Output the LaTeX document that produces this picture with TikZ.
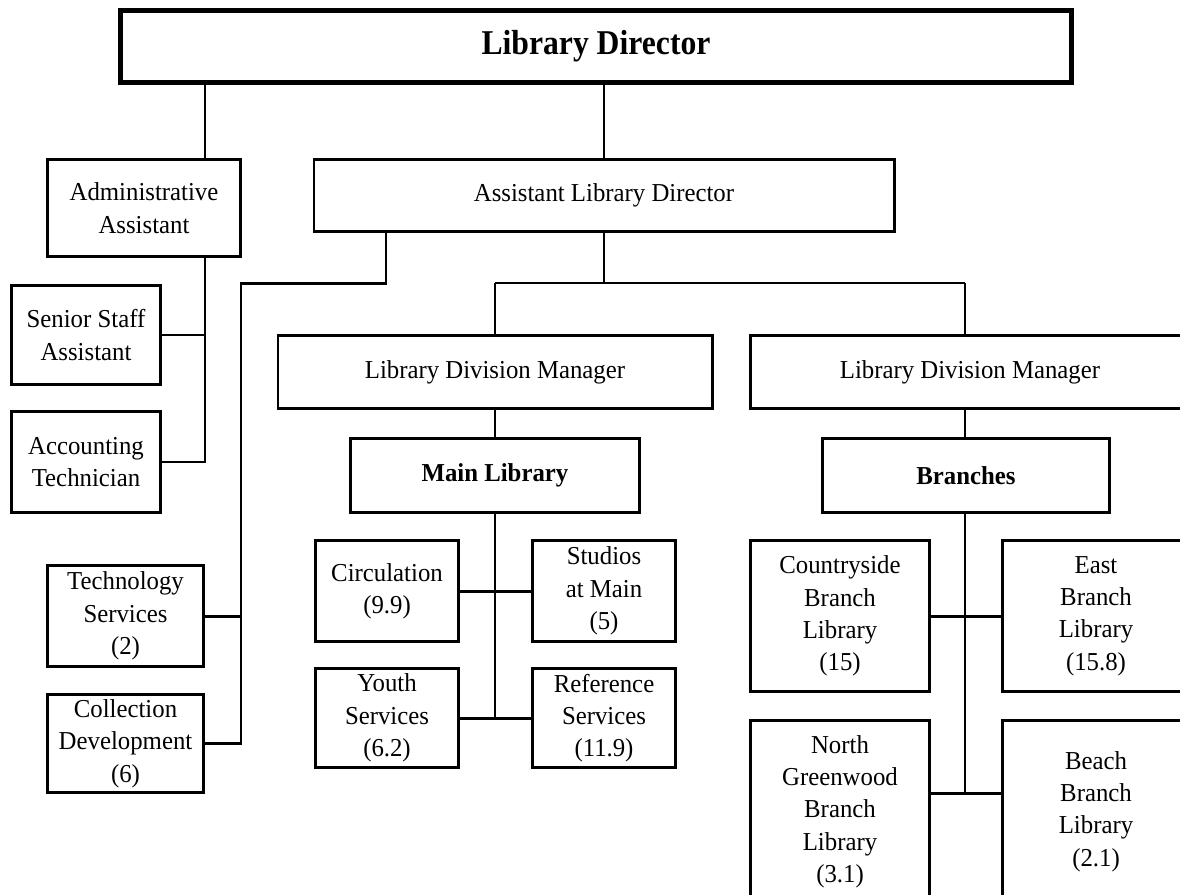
\documentclass[tikz,border=0pt]{standalone}
\usepackage{fontspec}
\setmainfont{Liberation Serif}[FakeStretch=0.96]
\newfontfamily\headfont{Liberation Serif}[FakeStretch=0.91]
\usetikzlibrary{calc}
\begin{document}
\begin{tikzpicture}[x=0.02cm,y=-0.02cm,
  box/.style={draw, line width=1.7pt, fill=white, inner sep=0pt, align=center,
    font=\fontsize{14.7}{18.4}\selectfont},
  sz/.style 2 args={minimum width=#1*0.02cm, minimum height=#2*0.02cm},
  link/.style={line width=1.2pt},
  heavy/.style={line width=1.7pt}]
\useasboundingbox (0,0) rectangle (1180,894);
\fill[white] (0,0) rectangle (1180,894);
\clip (0,0) rectangle (1180,894);

% top of the chart
\node[box, line width=2.8pt, sz={951}{72},
  font=\headfont\fontsize{19.8}{22}\selectfont\bfseries] (dir) at (596,46.5) {Library Director};
\node[box, sz={193}{97}] (admin) at (144,208) {Administrative\\Assistant};
\node[box, sz={580}{72}] (ald) at (604,195.5) {Assistant Library Director};

% administrative staff
\node[box, sz={149}{99}] (senior) at (86,335) {Senior Staff\\Assistant};
\node[box, sz={149}{101}] (acct) at (86,462) {Accounting\\Technician};
\node[box, sz={156}{101}] (tech) at (125.5,616) {Technology\\Services\\(2)};
\node[box, sz={156}{98}] (coll) at (125.5,743.5) {Collection\\Development\\(6)};

% divisions
\node[box, sz={434}{73}] (ldm1) at (495,372) {Library Division Manager};
\node[box, sz={439}{73}] (ldm2) at (970,372) {Library Division Manager};
\node[box, sz={289}{74}, font=\fontsize{14.7}{18.4}\selectfont\bfseries] (main) at (495,475.5) {Main Library};
\node[box, sz={287}{74}, font=\fontsize{14.7}{18.4}\selectfont\bfseries] (branches) at (966,475.5) {Branches};

% main library units
\node[box, sz={143}{101}] (circ) at (387,591) {Circulation\\(9.9)};
\node[box, sz={143}{101}] (studios) at (604,591) {Studios\\at Main\\(5)};
\node[box, sz={143}{99}] (youth) at (387,718) {Youth\\Services\\(6.2)};
\node[box, sz={143}{99}] (ref) at (604,718) {Reference\\Services\\(11.9)};

% branch libraries (the lower pair runs past the bottom edge)
\node[box, sz={179}{151}] (country) at (840,616) {Countryside\\Branch\\Library\\(15)};
\node[box, sz={187}{151}] (east) at (1096,616) {East\\Branch\\Library\\(15.8)};
\node[box, sz={179}{182}] (ngreen) at (840,811.5) {North\\Greenwood\\Branch\\Library\\(3.1)};
\node[box, sz={187}{182}] (beach) at (1096,811.5) {Beach\\Branch\\Library\\(2.1)};

% junction points
\coordinate (cA) at (205,0);
\coordinate (cB) at (386,283);
\coordinate (cC) at (241,283);
\coordinate (cD) at (604,283);
\coordinate (cE) at (965,283);
\coordinate (cF) at (0,793);

% director to the second level
\draw[link] (dir.south -| cA) -- (admin.north -| cA);
\draw[link] (dir.south -| ald.north) -- (ald.north);

% administrative assistant chain
\draw[link] (admin.south -| cA) -- (acct.east -| cA) -- (acct.east);
\draw[link] (senior.east) -- (senior.east -| cA);

% assistant director to technology and collections
\draw[heavy] (ald.south -| cB) -- (cB) -- (cC) |- (coll.east);
\draw[heavy] (tech.east) -- (tech.east -| cC);

% assistant director to the two divisions
\draw[link] (ald.south) -- (cD);
\draw[link] (ldm1.north |- cD) -- (cE);
\draw[link] (ldm1.north |- cD) -- (ldm1.north);
\draw[link] (cE) -- (ldm2.north -| cE);
\draw[link] (ldm1.south) -- (main.north);
\draw[link] (ldm2.south -| cE) -- (branches.north -| cE);

% main library units
\draw[link] (main.south) -- (main.south |- youth.east);
\draw[heavy] (circ.east) -- (studios.west);
\draw[heavy] (youth.east) -- (ref.west);

% branch libraries
\draw[link] (branches.south -| cE) -- (cE |- cF);
\draw[heavy] (country.east) -- (east.west);
\draw[heavy] (ngreen.east |- cF) -- (beach.west |- cF);
\end{tikzpicture}
\end{document}
